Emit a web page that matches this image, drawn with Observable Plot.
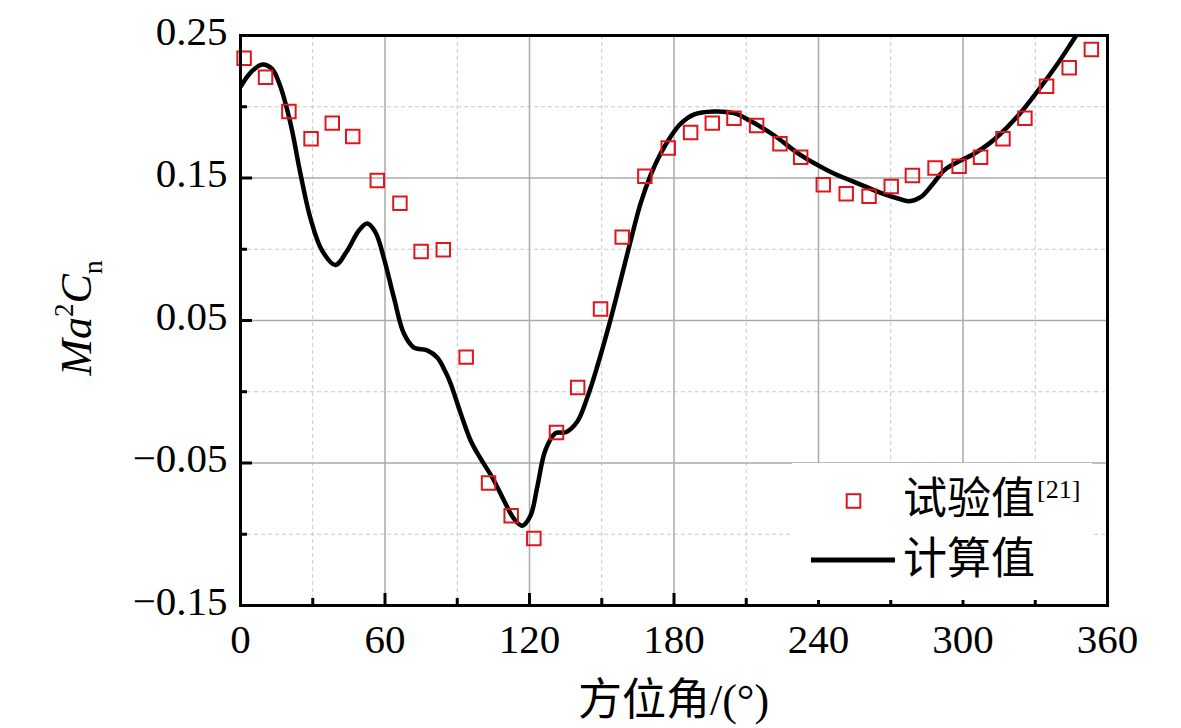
<!DOCTYPE html>
<html>
<head>
<meta charset="utf-8">
<script src="https://cdn.jsdelivr.net/npm/d3@7"></script>
<script src="https://cdn.jsdelivr.net/npm/@observablehq/plot@0.6"></script>
<style>
  html, body { margin: 0; padding: 0; background: white; }
  #chart { width: 1181px; height: 728px; }
</style>
</head>
<body>
<div id="chart"></div>
<script>
// Experimental values (试验值): azimuth (deg) and Ma²Cn
const expAngle = [1.5, 10.4, 20.1, 29.3, 38.1, 46.6, 56.8, 66.2, 75.0, 84.2,
  93.7, 103.0, 112.4, 121.8, 131.2, 140.0, 149.5, 158.5, 167.9, 177.6,
  186.9, 195.9, 204.9, 214.3, 224.0, 232.6, 242.0, 251.5, 261.0, 270.2,
  279.0, 288.4, 298.4, 307.3, 316.6, 325.7, 334.7, 344.1, 353.3];
const expValue = [0.234, 0.2207, 0.1967, 0.1775, 0.1885, 0.1791, 0.1482, 0.1323, 0.0984, 0.0996,
  0.0243, -0.064, -0.087, -0.103, -0.0286, 0.003, 0.058, 0.1085, 0.1513, 0.171,
  0.182, 0.1885, 0.192, 0.1868, 0.174, 0.1646, 0.1452, 0.139, 0.1372, 0.144,
  0.1518, 0.157, 0.1583, 0.1646, 0.1775, 0.192, 0.2144, 0.2273, 0.2402];

// Computed values (计算值)
const calcAngle = [0, 4.2, 9, 13.1, 16.6, 20.8, 24.9, 29, 33.9, 39.4,
  44.3, 49.1, 52.6, 56, 59.5, 63.7, 67.8, 72, 77.5, 81.7,
  85.1, 87.2, 91.4, 95.5, 99.7, 104.5, 109.3, 113.5, 117, 120.4,
  123.2, 126.6, 130.8, 135, 139.8, 144, 148, 153.7, 157.8, 162,
  166.1, 170.3, 174.4, 178.6, 182.7, 188.2, 196.5, 204.9, 211.8, 221.5,
  232.6, 243.6, 250, 257.5, 265.8, 272.7, 277.6, 282.4, 287.3, 292.1,
  297.6, 304.6, 311.5, 318.4, 325.3, 332.2, 339.2, 344.7, 350, 354];
const calcValue = [0.214, 0.224, 0.2297, 0.2266, 0.214, 0.188, 0.153, 0.122, 0.099, 0.089,
  0.099, 0.113, 0.118, 0.112, 0.094, 0.066, 0.041, 0.031, 0.029, 0.024,
  0.014, 0.006, -0.015, -0.034, -0.047, -0.060, -0.076, -0.089, -0.094, -0.087,
  -0.067, -0.041, -0.029, -0.0284, -0.021, -0.004, 0.017, 0.051, 0.078, 0.106,
  0.132, 0.152, 0.167, 0.179, 0.188, 0.1945, 0.1967, 0.1955, 0.190, 0.180,
  0.166, 0.1555, 0.1505, 0.1454, 0.1396, 0.1358, 0.1337, 0.1365, 0.1454, 0.1553,
  0.161, 0.167, 0.175, 0.1857, 0.1986, 0.2137, 0.230, 0.244, 0.258, 0.27];

const xMajor = [0, 60, 120, 180, 240, 300, 360];
const xMinor = [30, 90, 150, 210, 270, 330];
const yMajor = [-0.15, -0.05, 0.05, 0.15, 0.25];
const yMinor = [-0.1, 0, 0.1, 0.2];

const xTitle = "方位角/(°)";
const legendExp = "试验值";
const legendExpRef = "[21]";
const legendCalc = "计算值";

const expData = expAngle.map((a, i) => ({angle: a, value: expValue[i]}));
const calcData = calcAngle.map((a, i) => ({angle: a, value: calcValue[i]}));

const W = 1181, H = 728;
const mL = 240, mR = 74, mT = 35, mB = 123;
const fw = W - mL - mR, fh = H - mT - mB;
const serif = "'Liberation Serif', 'Times New Roman', serif";
const cjk = "'Liberation Serif', 'Noto Sans CJK SC', serif";

const svg = Plot.plot({
  width: W, height: H,
  marginLeft: mL, marginRight: mR, marginTop: mT, marginBottom: mB,
  style: {background: "white", fontFamily: serif},
  x: {domain: [0, 360]},
  y: {domain: [-0.15, 0.25]},
  marks: [
    Plot.ruleY(yMinor, {stroke: "#c8c8c8", strokeWidth: 1, strokeDasharray: "4,3"}),
    Plot.ruleX(xMinor, {stroke: "#c8c8c8", strokeWidth: 1, strokeDasharray: "4,3"}),
    Plot.ruleY(yMajor, {stroke: "#aaaaaa", strokeWidth: 1.5}),
    Plot.ruleX(xMajor, {stroke: "#aaaaaa", strokeWidth: 1.5}),
    Plot.line(calcData, {x: "angle", y: "value", curve: "catmull-rom", stroke: "black", strokeWidth: 4.5, clip: true}),
    Plot.dot(expData, {x: "angle", y: "value", symbol: "square", r: 7.6, stroke: "#e0161c", strokeWidth: 2, fill: "none"}),
    Plot.ruleX(xMajor, {stroke: "black", strokeWidth: 3, insetTop: fh - 12}),
    Plot.ruleX(xMinor, {stroke: "black", strokeWidth: 3, insetTop: fh - 7}),
    Plot.ruleY(yMajor, {stroke: "black", strokeWidth: 3, insetRight: fw - 12}),
    Plot.ruleY(yMinor, {stroke: "black", strokeWidth: 3, insetRight: fw - 7}),
    Plot.frame({stroke: "black", strokeWidth: 3}),
    Plot.axisX(xMajor, {tickSize: 0, tickPadding: 18, fontSize: 41, fontFamily: serif, fill: "black", tickFormat: d => String(d), label: null}),
    Plot.axisY(yMajor, {tickSize: 0, tickPadding: 13, fontSize: 41, fontFamily: serif, fill: "black", dy: -4, tickFormat: d3.format(".2f"), label: null})
  ]
});

const s = d3.select(svg);

// x-axis title
s.append("text")
  .attr("x", mL + fw / 2).attr("y", 715)
  .attr("text-anchor", "middle")
  .attr("font-family", cjk).attr("font-size", 44).attr("fill", "black")
  .text(xTitle);

// y-axis title Ma²Cn
const yt = s.append("text")
  .attr("transform", `translate(91,${318}) rotate(-90)`)
  .attr("text-anchor", "middle")
  .attr("font-family", serif).attr("font-size", 44).attr("fill", "black");
yt.append("tspan").attr("font-style", "italic").text("Ma");
yt.append("tspan").attr("font-size", 27).attr("dy", -18).text("2");
yt.append("tspan").attr("font-style", "italic").attr("dy", 18).text("C");
yt.append("tspan").attr("font-size", 28).attr("dy", 11).text("n");

// legend
const lg = s.append("g");
lg.append("rect").attr("x", 792).attr("y", 463).attr("width", 300).attr("height", 137).attr("fill", "white");
lg.append("rect").attr("x", 853.5 - 6.8).attr("y", 501 - 6.8).attr("width", 13.6).attr("height", 13.6)
  .attr("fill", "none").attr("stroke", "#e0161c").attr("stroke-width", 2);
const t1 = lg.append("text").attr("x", 903).attr("y", 514).attr("text-anchor", "start")
  .attr("font-family", cjk).attr("font-size", 44).attr("fill", "black");
t1.append("tspan").text(legendExp);
t1.append("tspan").attr("font-size", 26).attr("dy", -16).attr("dx", 2).text(legendExpRef);
lg.append("line").attr("x1", 811).attr("x2", 895).attr("y1", 560).attr("y2", 560)
  .attr("stroke", "black").attr("stroke-width", 5);
lg.append("text").attr("x", 903).attr("y", 574).attr("text-anchor", "start")
  .attr("font-family", cjk).attr("font-size", 44).attr("fill", "black")
  .text(legendCalc);

document.getElementById("chart").appendChild(svg);
</script>
</body>
</html>
